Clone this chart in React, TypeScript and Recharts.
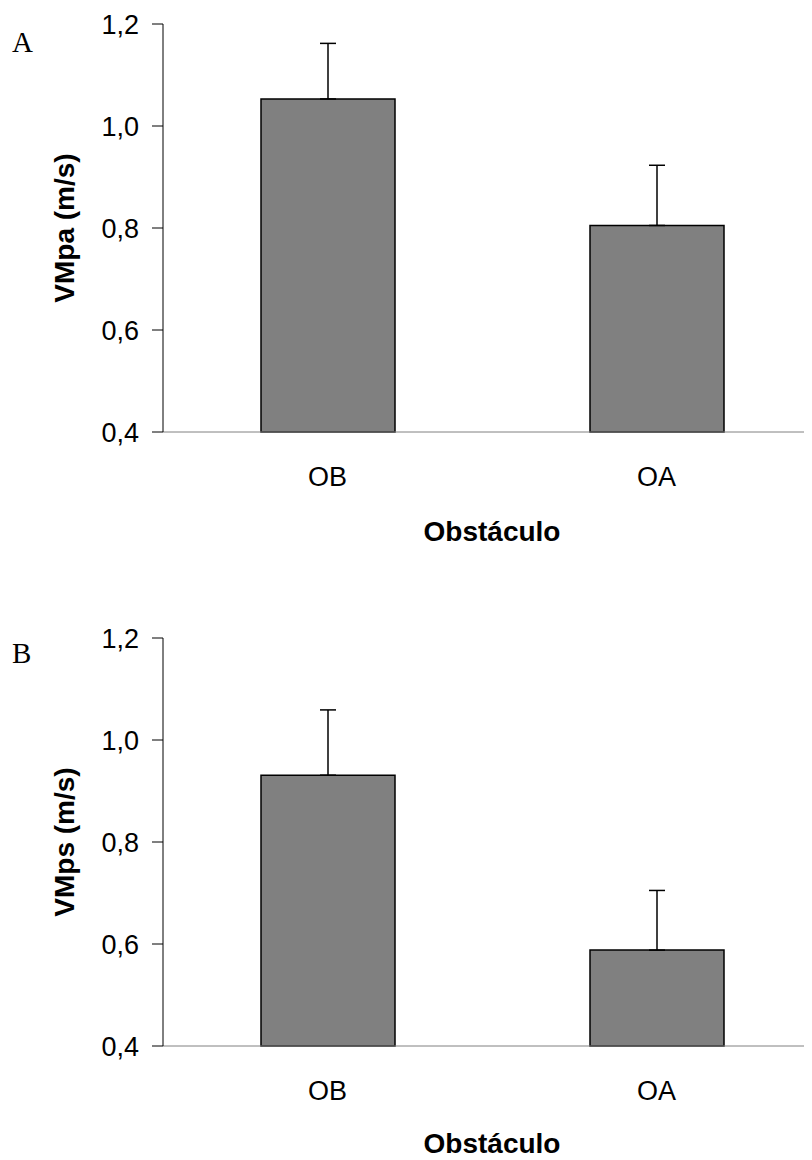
import { BarChart, Bar, XAxis, YAxis, ErrorBar } from "recharts"

const categories = ["OB", "OA"]
const yTicks = [0.4, 0.6, 0.8, 1.0, 1.2]

// painel A - VMpa
const vmpaMean = [1.053, 0.805]
const vmpaSd = [0.109, 0.118]

// painel B - VMps
const vmpsMean = [0.931, 0.588]
const vmpsSd = [0.128, 0.117]

const SANS = "'Liberation Sans', Arial, sans-serif"
const SERIF = "'Liberation Serif', 'Times New Roman', serif"

const fmt = (v: number) => v.toFixed(1).replace(".", ",")

type PanelProps = {
  letter: string
  yLabel: string
  means: number[]
  sds: number[]
  height: number
  letterY: number
  xLabelDy: number
}

function Panel({ letter, yLabel, means, sds, height, letterY, xLabelDy }: PanelProps) {
  const data = categories.map((c, i) => ({ name: c, value: means[i], err: [0, sds[i]] }))

  return (
    <BarChart
      width={813}
      height={height}
      data={data}
      margin={{ top: 16, right: 0, bottom: 0, left: 0 }}
      barSize={134}
      style={{ overflow: "visible" }}
    >
      <XAxis
        dataKey="name"
        height={height - 16 - 408}
        stroke="#808080"
        tickLine={false}
        tickSize={0}
        tickMargin={35}
        tick={{ fill: "#000", fontSize: 27, fontFamily: SANS }}
        label={{
          content: ({ viewBox }: any) => (
            <text
              x={viewBox.x + viewBox.width / 2}
              y={viewBox.y + xLabelDy}
              textAnchor="middle"
              dominantBaseline="central"
              fontFamily={SANS}
              fontWeight="bold"
              fontSize={28}
              fill="#000"
            >
              Obstáculo
            </text>
          ),
        }}
      />
      <YAxis
        domain={[0.4, 1.2]}
        ticks={yTicks}
        interval={0}
        tickFormatter={fmt}
        width={155}
        stroke="#000"
        tickSize={11}
        tickMargin={13}
        tick={{ fill: "#000", fontSize: 27, fontFamily: SANS }}
        label={{
          content: ({ viewBox }: any) => {
            const cx = viewBox.x + 56
            const cy = viewBox.y + viewBox.height / 2
            return (
              <g>
                <text
                  x={cx}
                  y={cy}
                  transform={`rotate(-90, ${cx}, ${cy})`}
                  textAnchor="middle"
                  dominantBaseline="central"
                  fontFamily={SANS}
                  fontWeight="bold"
                  fontSize={28}
                  fill="#000"
                >
                  {yLabel}
                </text>
                <text x={4} y={letterY} fontFamily={SERIF} fontSize={29} fill="#000">
                  {letter}
                </text>
              </g>
            )
          },
        }}
      />
      <Bar dataKey="value" fill="#808080" stroke="#000" strokeWidth={1.5} isAnimationActive={false}>
        <ErrorBar dataKey="err" direction="y" width={8} stroke="#000" strokeWidth={1.5} />
      </Bar>
    </BarChart>
  )
}

export default function App() {
  return (
    <div style={{ width: 813 }}>
      <style>{"html,body{overflow:visible} html{overflow:hidden}"}</style>
      <Panel letter="A" yLabel="VMpa (m/s)" means={vmpaMean} sds={vmpaSd} height={614} letterY={44} xLabelDy={99} />
      <Panel letter="B" yLabel="VMps (m/s)" means={vmpsMean} sds={vmpsSd} height={538} letterY={41} xLabelDy={97} />
    </div>
  )
}
